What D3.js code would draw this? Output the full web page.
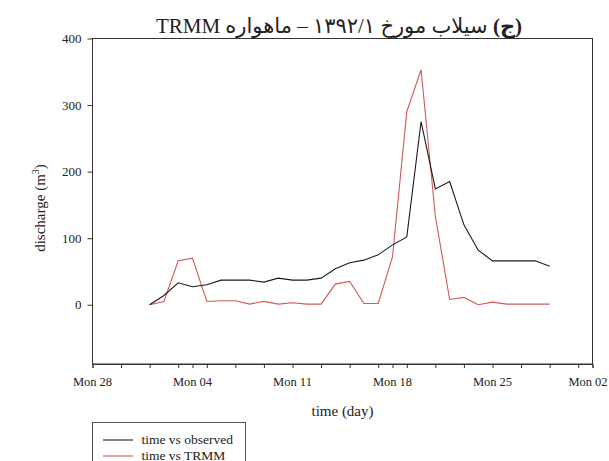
<!DOCTYPE html>
<html>
<head>
<meta charset="utf-8">
<script src="https://cdn.jsdelivr.net/npm/d3@7"></script>
<style>
  body { margin: 0; background: #fff; }
  svg { display: block; }
  text { font-family: "Liberation Serif", "Times New Roman", serif; fill: #222; }
</style>
</head>
<body>
<svg id="chart" width="609" height="461"></svg>
<script>
// ---- Data ----
const dates = [
  "2011-04-01","2011-04-02","2011-04-03","2011-04-04","2011-04-05","2011-04-06","2011-04-07",
  "2011-04-08","2011-04-09","2011-04-10","2011-04-11","2011-04-12","2011-04-13","2011-04-14",
  "2011-04-15","2011-04-16","2011-04-17","2011-04-18","2011-04-19","2011-04-20","2011-04-21",
  "2011-04-22","2011-04-23","2011-04-24","2011-04-25","2011-04-26","2011-04-27","2011-04-28",
  "2011-04-29"
];
const observed = [0, 14, 33, 27, 30, 37, 37, 37, 34, 40, 37, 37, 40, 54, 63, 67, 75, 90, 102,
                  275, 174, 185, 120, 82, 66, 66, 66, 66, 58];
const trmm = [0, 5, 66, 70, 5, 6, 6, 1, 5, 1, 3, 1, 1, 31, 35, 2, 2, 72, 290,
              353, 133, 8, 11, 0, 4, 1, 1, 1, 1];
const yTicks = [0, 100, 200, 300, 400];
const xStart = "2011-03-28", xEnd = "2011-05-02";
const seriesNames = ["time vs observed", "time vs TRMM"];
const titleLetter = "(ج)";
const titleRest = " سیلاب مورخ ۱۳۹۲/۱ – ماهواره TRMM";
const xTitle = "time (day)";

// ---- Layout ----
const svg = d3.select("#chart");
const L = 92.5, R = 592.5, T = 38.5, B = 364;
const parse = d3.timeParse("%Y-%m-%d");
const x = d3.scaleTime().domain([parse(xStart), parse(xEnd)]).range([L, R]);
const y = d3.scaleLinear().domain([-89, 400]).range([B, T]);

// frame
svg.append("rect").attr("x", L).attr("y", T).attr("width", R - L).attr("height", B - T)
  .attr("fill", "none").attr("stroke", "#333").attr("stroke-width", 1);

// x axis: ticks every two days from start plus Mondays
const t0 = parse(xStart), t1 = parse(xEnd);
const twoDay = d3.timeDay.range(t0, d3.timeDay.offset(t1, 1), 2);
const mondays = d3.timeMonday.range(t0, d3.timeDay.offset(t1, 1));
const allTicks = Array.from(new Set(twoDay.concat(mondays).map(d => +d))).sort((a, b) => a - b).map(d => new Date(d));

const xAxis = d3.axisBottom(x).tickValues(allTicks).tickSize(4).tickFormat("");
const gx = svg.append("g").attr("transform", `translate(0,${B})`).call(xAxis);
gx.select(".domain").attr("stroke", "#333");
gx.selectAll(".tick line").attr("stroke", "#333");

const fmt = d3.timeFormat("%a %d");
svg.append("g").selectAll("text").data(mondays).join("text")
  .attr("x", d => Math.min(x(d), 588)).attr("y", 386)
  .attr("text-anchor", "middle").attr("font-size", 12.5)
  .text(d => fmt(d));

// y axis
const yAxis = d3.axisLeft(y).tickValues(yTicks).tickSize(5).tickPadding(6);
const gy = svg.append("g").attr("transform", `translate(${L},0)`).call(yAxis);
gy.select(".domain").remove();
gy.selectAll(".tick line").attr("stroke", "#333");
gy.selectAll(".tick text").attr("font-size", 13)
  .attr("font-family", "Liberation Serif, serif").attr("fill", "#222");

// lines
const line = vals => d3.line().x((d, i) => x(parse(dates[i]))).y(d => y(d))(vals);
svg.append("path").attr("d", line(trmm)).attr("fill", "none")
  .attr("stroke", "#d05a5a").attr("stroke-width", 1.1);
svg.append("path").attr("d", line(observed)).attr("fill", "none")
  .attr("stroke", "#1a1a1a").attr("stroke-width", 1.1);

// titles
svg.append("text").attr("x", (L + R) / 2).attr("y", 416)
  .attr("text-anchor", "middle").attr("font-size", 15).text(xTitle);

const yt = svg.append("text").attr("transform", `translate(45,${208}) rotate(-90)`)
  .attr("text-anchor", "middle").attr("font-size", 15);
yt.append("tspan").text("discharge (m");
yt.append("tspan").attr("font-size", 10).attr("dy", -6).text("3");
yt.append("tspan").attr("dy", 6).text(")");

const tt = svg.append("text").attr("x", 339).attr("y", 33)
  .attr("text-anchor", "middle").attr("direction", "rtl")
  .attr("font-size", 21)
  .style("font-family", "'Liberation Serif', 'DejaVu Sans', serif");
tt.append("tspan").attr("font-weight", "bold").text(titleLetter);
tt.append("tspan").text(titleRest);

// legend
const lg = svg.append("g");
lg.append("rect").attr("x", 92.5).attr("y", 422.5).attr("width", 153).attr("height", 60)
  .attr("fill", "#fff").attr("stroke", "#555").attr("stroke-width", 1);
const colors = ["#1a1a1a", "#d05a5a"];
seriesNames.forEach((n, i) => {
  const yy = 440 + i * 16;
  lg.append("line").attr("x1", 103).attr("x2", 133).attr("y1", yy).attr("y2", yy)
    .attr("stroke", colors[i]).attr("stroke-width", 1.1);
  lg.append("text").attr("x", 141.5).attr("y", yy + 3.5).attr("font-size", 13.5).text(n);
});
</script>
</body>
</html>
